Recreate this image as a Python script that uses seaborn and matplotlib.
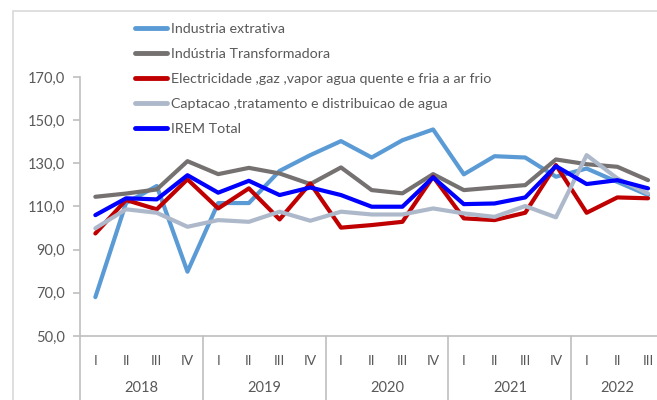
import pandas as pd
import seaborn as sns
import matplotlib.pyplot as plt
from matplotlib.patches import Rectangle
from matplotlib.ticker import FuncFormatter

# ================= data =================
years = ['2018', '2019', '2020', '2021', '2022']
quarters_per_year = [4, 4, 4, 4, 3]
quarter_names = ['I', 'II', 'III', 'IV']

extrativa = [68.0, 111.6, 119.5, 79.8, 111.6, 111.6, 126.5, 133.8, 140.3, 132.7,
             140.7, 145.7, 124.9, 133.3, 132.7, 123.8, 127.6, 121.4, 115.3]
transformadora = [114.5, 116.0, 117.9, 131.0, 125.0, 127.9, 125.3, 120.4, 128.1, 117.6,
                  116.1, 125.0, 117.6, 118.8, 119.9, 131.8, 129.6, 128.4, 122.2]
electricidade = [97.5, 113.0, 108.7, 122.6, 109.1, 118.4, 104.0, 120.7, 100.2, 101.4,
                 102.9, 123.8, 104.5, 103.7, 107.1, 129.2, 107.1, 114.2, 113.8]
captacao = [99.9, 108.7, 107.1, 100.6, 103.7, 102.9, 107.6, 103.4, 107.6, 106.3,
            106.3, 109.1, 106.8, 105.2, 110.2, 105.0, 133.8, 123.0, 116.0]
irem_total = [106.0, 113.8, 113.3, 124.5, 116.4, 121.9, 115.3, 118.8, 115.3, 109.9,
              109.9, 123.5, 111.1, 111.4, 114.2, 128.7, 120.4, 122.2, 118.4]

series_names = ['Industria extrativa', 'Indústria Transformadora',
                'Electricidade ,gaz ,vapor agua quente e fria a ar frio',
                'Captacao ,tratamento e distribuicao de agua', 'IREM Total']
series_values = [extrativa, transformadora, electricidade, captacao, irem_total]
colors = ['#5B9BD5', '#767171', '#C00000', '#ADB9CA', '#0000FF']

# ================= build table =================
quarter_labels = []
for y, n in zip(years, quarters_per_year):
    for q in quarter_names[:n]:
        quarter_labels.append(q)

rows = []
for name, vals in zip(series_names, series_values):
    for i, v in enumerate(vals):
        rows.append({'pos': i, 'serie': name, 'valor': v})
df = pd.DataFrame(rows)

# ================= plot =================
sns.set_theme(style='white')
plt.rcParams['font.family'] = ['Lato', 'DejaVu Sans']
txt_color = '#595959'
axis_color = '#BFBFBF'

fig = plt.figure(figsize=(6.57, 4.0), dpi=100)
ax = fig.add_axes([80 / 657, 1 - 336 / 400, (657 - 80) / 657, (336 - 77) / 400])

sns.lineplot(data=df, x='pos', y='valor', hue='serie', hue_order=series_names,
             palette=colors, linewidth=3, ax=ax, legend=True)

ax.set_ylim(50, 170)
ax.set_yticks(range(50, 171, 20))
ax.yaxis.set_major_formatter(FuncFormatter(lambda v, p: f'{v:.1f}'.replace('.', ',')))
ax.set_xlim(-0.5, (657 - 96) / 30.67)
ax.set_xticks(range(len(quarter_labels)))
ax.set_xticklabels(quarter_labels)
ax.set_xlabel('')
ax.set_ylabel('')

for s in ['top', 'right']:
    ax.spines[s].set_visible(False)
ax.spines['left'].set_color(axis_color)
ax.spines['bottom'].set_color(axis_color)
ax.spines['left'].set_linewidth(1.2)
ax.spines['bottom'].set_linewidth(1.2)
ax.tick_params(axis='y', left=True, length=5, width=1.2, color=axis_color,
               labelcolor=txt_color, labelsize=10.5, pad=6)
ax.tick_params(axis='x', bottom=False, labelcolor=txt_color, labelsize=10, pad=8)

# year groups: separators and labels below the axis
start = 0
bt = ax.get_xaxis_transform()
for y, n in zip(years, quarters_per_year):
    ax.plot([start - 0.5, start - 0.5], [0, -0.4], transform=bt, color=axis_color,
            linewidth=1.2, clip_on=False)
    ax.text(start + (n - 1) / 2, -0.2, y, transform=bt, ha='center', va='center',
            color=txt_color, fontsize=10.5)
    start += n

leg = ax.legend(loc='upper left', bbox_to_anchor=(135 / 657, 1 - 23 / 400),
                bbox_transform=fig.transFigure, frameon=False, fontsize=10.3,
                handlelength=2.25, handletextpad=0.3, labelspacing=0.9,
                borderaxespad=0, borderpad=0)
for t in leg.get_texts():
    t.set_color(txt_color)
for h in leg.get_lines():
    h.set_linewidth(3.5)

# outer chart border
fig.patches.append(Rectangle((13 / 657, -0.1), 1.0, 1.1 - 11 / 400, transform=fig.transFigure,
                             fill=False, edgecolor='#D9D9D9', linewidth=1.2))

fig.savefig('out.png', dpi=100)
